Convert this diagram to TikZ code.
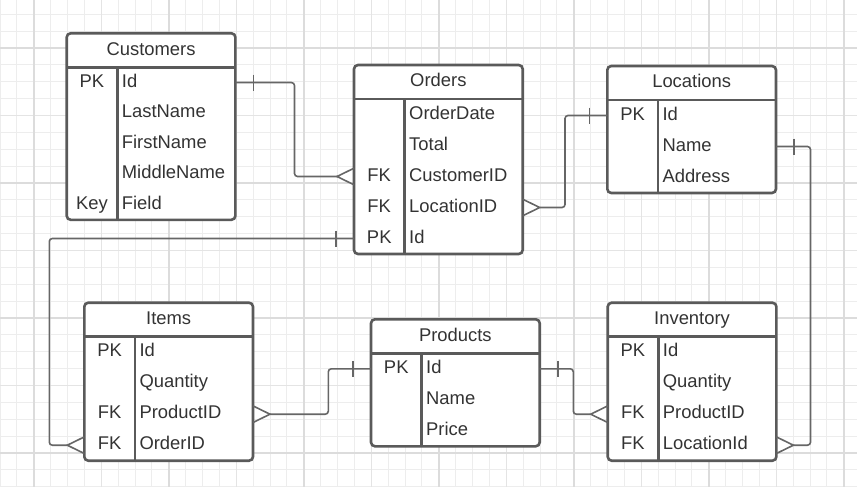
\documentclass[tikz,border=0pt]{standalone}
\usepackage{fontspec}
\setmainfont{Liberation Sans}
\usetikzlibrary{calc}
\definecolor{ink}{HTML}{333333}
\definecolor{edgec}{HTML}{5A5A5A}
\definecolor{connc}{HTML}{666666}
\definecolor{gminorc}{HTML}{EDEDED}
\definecolor{gmidc}{HTML}{E4E4E4}
\definecolor{gmajorc}{HTML}{DCDCDC}
\tikzset{
  tablebox/.style={draw=edgec, line width=2.6pt, rounded corners=4pt, fill=white, inner sep=0pt,
    minimum width=168.7pt, anchor=north west, outer sep=0pt},
  divider/.style={draw=edgec, line width=2.6pt},
  cell/.style={inner sep=0pt, text=ink, font=\fontsize{18.4}{22}\selectfont},
  fieldtxt/.style={cell, anchor=base west},
  keytxt/.style={cell, anchor=base},
  titletxt/.style={cell, anchor=base},
  link/.style={draw=connc, line width=1.6pt, rounded corners=3pt},
  footline/.style={draw=connc, line width=1.6pt, line join=miter},
  gminor/.style={draw=gminorc, line width=0.9pt},
  gmid/.style={draw=gmidc, line width=1.3pt},
  gmajor/.style={draw=gmajorc, line width=2pt},
}
% #1 name, #2 left, #3 top, #4 title, #5 nrows, #6 row height, #7 list key/field
\newcommand\ertable[7]{%
  \pgfmathsetmacro\tabh{34+#5*#6}%
  \node[tablebox, minimum height=\tabh pt] (#1) at (#2,#3) {};
  \draw[divider] ($(#1.north west)+(0,34)$) -- ($(#1.north east)+(0,34)$);
  \draw[divider] ($(#1.north west)+(50.5,34)$) -- ($(#1.south west)+(50.5,0)$);
  \node[titletxt] (#1-title) at ($(#1.north)+(0,22)$) {#4};
  \foreach[count=\i] \k/\f in {#7} {
    \if\relax\detokenize\expandafter{\k}\relax\else
      \node[keytxt] (#1-k\i) at ($(#1.north west)+(25.25,{34+(\i-0.5)*#6+4.5})$) {\k};
    \fi
    \node[fieldtxt] (#1-f\i) at ($(#1.north west)+(55,{34+(\i-0.5)*#6+4.5})$) {\f};
    \coordinate (#1-l\i) at ($(#1.north west)+(0,{34+(\i-0.5)*#6})$);
    \coordinate (#1-r\i) at ($(#1.north east)+(0,{34+(\i-0.5)*#6})$);
  }
}
\newcommand\manyL[1]{\draw[footline] ($(#1)+(0,-8.3)$) -- ($(#1)+(-17,0)$) -- ($(#1)+(0,8.3)$);}
\newcommand\manyR[1]{\draw[footline] ($(#1)+(0,-8.3)$) -- ($(#1)+(17,0)$) -- ($(#1)+(0,8.3)$);}
\newcommand\oneL[1]{\draw[footline] ($(#1)+(-18,-8)$) -- ($(#1)+(-18,8)$);}
\newcommand\oneR[1]{\draw[footline] ($(#1)+(18,-8)$) -- ($(#1)+(18,8)$);}
\begin{document}
\begin{tikzpicture}[x=1pt,y=-1pt]
\useasboundingbox (0,0) rectangle (857,487);
\fill[white] (0,0) rectangle (857,487);
% grid
\foreach \k in {0,...,50} {\draw[gminor] ({\k*16.875},0) -- ({\k*16.875},487);}
\foreach \k in {0,...,28} {\draw[gminor] (0,{14.25+\k*16.875}) -- (857,{14.25+\k*16.875});}
\foreach \k in {0,...,12} {\draw[gmid] ({33.75+\k*67.5},0) -- ({33.75+\k*67.5},487);}
\foreach \k in {0,...,6} {\draw[gmid] (0,{48+\k*67.5}) -- (857,{48+\k*67.5});}
\foreach \k in {0,...,6} {\draw[gmajor] ({33.75+\k*135},0) -- ({33.75+\k*135},487);}
\foreach \k in {0,...,3} {\draw[gmajor] (0,{48+\k*135}) -- (857,{48+\k*135});}
% tables
\ertable{cust}{66.7}{33.3}{Customers}{5}{30.5}{PK/Id, /LastName, /FirstName, /MiddleName, Key/Field}
\ertable{ord}{354}{65}{Orders}{5}{31}{/OrderDate, /Total, FK/CustomerID, FK/LocationID, PK/Id}
\ertable{loc}{607.3}{66}{Locations}{3}{31}{PK/Id, /Name, /Address}
\ertable{items}{84.3}{302.7}{Items}{4}{31}{PK/Id, /Quantity, FK/ProductID, FK/OrderID}
\ertable{prod}{371}{319.3}{Products}{3}{31}{PK/Id, /Name, /Price}
\ertable{inv}{607.7}{302.7}{Inventory}{4}{31}{PK/Id, /Quantity, FK/ProductID, FK/LocationId}
% junction columns
\coordinate (j1) at (294.5,0);
\coordinate (j2) at (565,0);
\coordinate (j3) at (49.3,0);
\coordinate (j4) at (328.3,0);
\coordinate (j5) at (573.3,0);
\coordinate (j6) at (810.5,0);
% connectors
\draw[link] (cust-r1) -- (cust-r1 -| j1) -- (ord-l3 -| j1) -- ($(ord-l3)+(-17,0)$);
\oneR{cust-r1} \manyL{ord-l3}
\draw[link] ($(ord-r4)+(17,0)$) -- (ord-r4 -| j2) -- (loc-l1 -| j2) -- (loc-l1);
\manyR{ord-r4} \oneL{loc-l1}
\draw[link] (ord-l5) -- (ord-l5 -| j3) -- (items-l4 -| j3) -- ($(items-l4)+(-17,0)$);
\oneL{ord-l5} \manyL{items-l4}
\draw[link] ($(items-r3)+(17,0)$) -- (items-r3 -| j4) -- (prod-l1 -| j4) -- (prod-l1);
\manyR{items-r3} \oneL{prod-l1}
\draw[link] (prod-r1) -- (prod-r1 -| j5) -- (inv-l3 -| j5) -- ($(inv-l3)+(-17,0)$);
\oneR{prod-r1} \manyL{inv-l3}
\draw[link] (loc-r2) -- (loc-r2 -| j6) -- (inv-r4 -| j6) -- ($(inv-r4)+(17,0)$);
\oneR{loc-r2} \manyR{inv-r4}
\end{tikzpicture}
\end{document}
